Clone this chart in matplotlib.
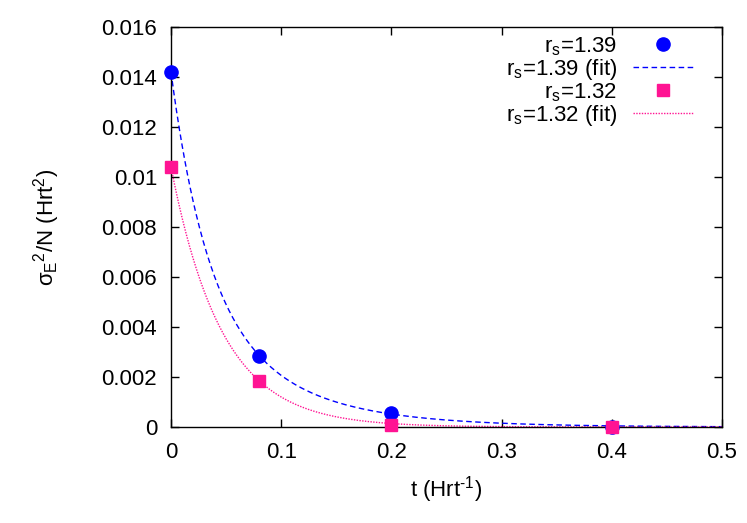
import numpy as np
import matplotlib
matplotlib.use('Agg')
import matplotlib.pyplot as plt
from matplotlib.ticker import FuncFormatter

plt.rcParams['font.family'] = ['Liberation Sans', 'DejaVu Sans']
plt.rcParams['mathtext.fontset'] = 'custom'
plt.rcParams['mathtext.rm'] = 'Liberation Sans'
plt.rcParams['mathtext.it'] = 'Liberation Sans'
plt.rcParams['mathtext.sf'] = 'Liberation Sans'
plt.rcParams['mathtext.bf'] = 'Liberation Sans:bold'

# ---- data ----
t_139 = [0.0, 0.08, 0.2, 0.4]
var_139 = [0.0142, 0.00285, 0.00055, 0.00002]
t_132 = [0.0, 0.08, 0.2, 0.4]
var_132 = [0.0104, 0.00183, 0.00008, 0.0]

# fit parameters: f(t) = a1*exp(-k1*t) + a2*exp(-k2*t)
fit_139 = (0.0087, 30.6, 0.0055, 12.0)
fit_132 = (0.0104, 21.6, 0.0, 0.0)

labels = [r'r$_\mathregular{s}$=1.39', r'r$_\mathregular{s}$=1.39 (fit)',
          r'r$_\mathregular{s}$=1.32', r'r$_\mathregular{s}$=1.32 (fit)']
xticks = [0, 0.1, 0.2, 0.3, 0.4, 0.5]
yticks = [0, 0.002, 0.004, 0.006, 0.008, 0.01, 0.012, 0.014, 0.016]

blue = '#0000ff'
pink = '#ff1493'


def fitfun(t, p):
    a1, k1, a2, k2 = p
    return a1 * np.exp(-k1 * t) + a2 * np.exp(-k2 * t)


W, H = 747, 523
fig = plt.figure(figsize=(W / 100, H / 100), dpi=100)
ax = fig.add_axes([171 / W, 1 - 427 / H, (722 - 171) / W, 400 / H])

tt = np.linspace(0, 0.5, 600)
ax.plot(t_139, var_139, 'o', color=blue, ms=9.5, clip_on=False, zorder=3, label=labels[0])
ax.plot(tt, fitfun(tt, fit_139), color=blue, lw=1.0, ls=(0, (4, 2.5)), label=labels[1])
ax.plot(t_132, var_132, 's', color=pink, ms=9, clip_on=False, zorder=4, label=labels[2])
ax.plot(tt, fitfun(tt, fit_132), color=pink, lw=1.0, ls=(0, (1, 1)), label=labels[3])

ax.set_xlim(0, 0.5)
ax.set_ylim(0, 0.016)
ax.set_xticks(xticks)
ax.set_yticks(yticks)
fmt = FuncFormatter(lambda v, p: '%g' % round(v, 6))
ax.xaxis.set_major_formatter(fmt)
ax.yaxis.set_major_formatter(fmt)
ax.tick_params(direction='in', top=True, right=True, length=6, width=1,
               labelsize=16, colors='black')
ax.tick_params(axis='y', pad=10)
ax.tick_params(axis='x', pad=11)
for s in ax.spines.values():
    s.set_linewidth(1)

ax.set_xlabel('t (Hrt$^{\\mathregular{\u2010}1}$)', fontsize=16, labelpad=8)
ax.set_ylabel(r'$\sigma_{\mathregular{E}}{}^{2}$/N (Hrt$^{2}$)', fontsize=16, labelpad=28)

leg = ax.legend(loc='upper right', bbox_to_anchor=((693 - 171) / 551, (427 - 35) / 400),
                frameon=False, markerfirst=False, fontsize=16, borderpad=0,
                borderaxespad=0, handlelength=2.7, handletextpad=0.7,
                labelspacing=-0.03)

fig.savefig('out.png', dpi=100)
